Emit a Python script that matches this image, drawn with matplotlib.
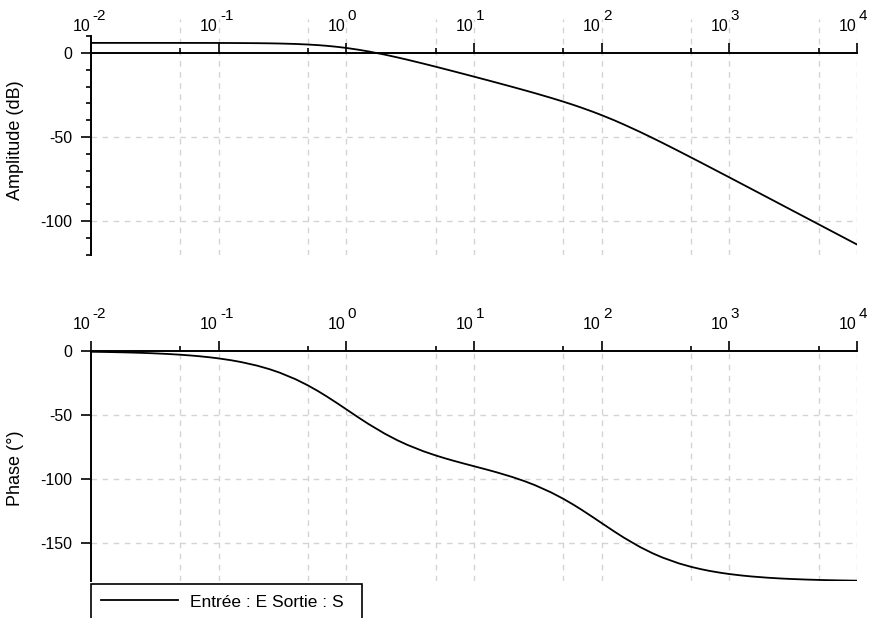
import matplotlib
matplotlib.use("Agg")
from matplotlib import pyplot as plt
from matplotlib.ticker import FixedLocator, NullFormatter
from matplotlib.transforms import offset_copy

plt.rcParams["font.family"] = ["Liberation Sans", "DejaVu Sans"]
plt.rcParams["axes.unicode_minus"] = False

# values (pulsation in rad/s)
freq = [0.01, 0.0125, 0.015, 0.02, 0.025, 0.03, 0.04, 0.05, 0.06, 0.07, 0.085,
        0.1, 0.125, 0.15, 0.2, 0.25, 0.3, 0.4, 0.5, 0.6, 0.7, 0.85,
        1, 1.25, 1.5, 2, 2.5, 3, 4, 5, 6, 7, 8.5,
        10, 12.5, 15, 20, 25, 30, 40, 50, 60, 70, 85,
        100, 125, 150, 200, 250, 300, 400, 500, 600, 700, 850,
        1000, 1250, 1500, 2000, 2500, 3000, 4000, 5000, 6000, 7000, 8500,
        10000]
gain_db = [6.02, 6.02, 6.02, 6.02, 6.02, 6.02, 6.01, 6.01, 6.00, 6.00, 5.99,
           5.98, 5.95, 5.92, 5.85, 5.76, 5.65, 5.38, 5.05, 4.69, 4.29, 3.66,
           3.01, 1.93, 0.90, -0.97, -2.59, -3.98, -6.29, -8.14, -9.68, -10.99, -12.66,
           -14.07, -16.01, -17.62, -20.18, -22.21, -23.90, -26.67, -28.93, -30.88,
           -32.62, -34.93,
           -36.99, -40.00, -42.62, -46.99, -50.54, -53.52, -58.33, -62.11, -65.22,
           -67.87, -71.22,
           -74.02, -77.88, -81.04, -86.03, -89.91, -93.07, -98.07, -101.94, -105.11,
           -107.79, -111.16,
           -113.98]
phase_deg = [-0.58, -0.72, -0.87, -1.16, -1.45, -1.73, -2.31, -2.89, -3.47, -4.04, -4.91,
             -5.77, -7.20, -8.62, -11.42, -14.18, -16.87, -22.03, -26.85, -31.31,
             -35.39, -40.85,
             -45.57, -52.06, -57.17, -64.58, -69.63, -73.28, -78.25, -81.55, -83.97,
             -85.87, -88.15,
             -90.00, -92.55, -94.72, -98.45, -101.75, -104.79, -110.37, -115.42,
             -120.01, -124.17, -129.69,
             -134.43, -140.88, -145.93, -153.15, -157.97, -161.37, -165.82, -168.58,
             -170.44, -171.79, -173.22,
             -174.23, -175.38, -176.15, -177.11, -177.69, -178.07, -178.55, -178.84,
             -179.04, -179.17, -179.32,
             -179.43]

exponents = ["-2", "-1", "0", "1", "2", "3", "4"]
major_x = [10.0 ** k for k in range(-2, 5)]
minor_x = [5 * 10.0 ** k for k in range(-2, 4)]

GRID = "#d4d4d4"
TICK_FS = 11.5
LABEL_FS = 13


def style_axes(ax, ylim, spine_top, yticks, yminor, ylabel, label_y):
    ax.set_xscale("log")
    ax.set_xlim(major_x[0], major_x[-1])
    ax.set_ylim(*ylim)
    ax.spines["right"].set_visible(False)
    ax.spines["bottom"].set_visible(False)
    ax.spines["top"].set_position(("data", 0))
    ax.spines["left"].set_bounds(ylim[0], spine_top)
    for s in ("top", "left"):
        ax.spines[s].set_linewidth(1.4)

    ax.xaxis.set_ticks_position("top")
    ax.xaxis.set_major_locator(FixedLocator(major_x))
    ax.xaxis.set_minor_locator(FixedLocator(minor_x))
    ax.xaxis.set_major_formatter(NullFormatter())
    ax.xaxis.set_minor_formatter(NullFormatter())
    ax.tick_params(axis="x", which="major", direction="out", length=7.2, width=1.2)
    ax.tick_params(axis="x", which="minor", direction="out", length=3.6, width=1.2)

    ax.set_yticks(yticks)
    ax.set_yticks(yminor, minor=True)
    ax.set_yticklabels([str(v) for v in yticks])
    ax.tick_params(axis="y", which="major", length=7.2, width=1.2,
                   labelsize=TICK_FS, pad=6)
    ax.tick_params(axis="y", which="minor", length=3.6, width=1.2)

    for x in major_x[1:] + minor_x:
        ax.axvline(x, color=GRID, ls=(0, (4, 4)), lw=1, zorder=0)
    for y in yticks:
        if y != 0:
            ax.axhline(y, color=GRID, ls=(0, (4, 4)), lw=1, zorder=0)

    # tick labels 10^k drawn as base + raised exponent
    base_tr = offset_copy(ax.transData, fig=ax.figure, x=-0.5, y=15.8, units="points")
    exp_tr = offset_copy(ax.transData, fig=ax.figure, x=1.0, y=23.5, units="points")
    for x, e in zip(major_x, exponents):
        ax.text(x, 0, "10", transform=base_tr, ha="right", va="baseline",
                fontsize=TICK_FS)
        ax.text(x, 0, e, transform=exp_tr, ha="left", va="baseline",
                fontsize=TICK_FS - 0.5)

    ax.set_ylabel(ylabel, fontsize=LABEL_FS)
    ax.yaxis.set_label_coords(-0.088, label_y)


fig = plt.figure(figsize=(8.71, 6.18), dpi=100)
ax_gain = fig.add_axes([0.1045, 0.588, 0.8794, 0.3806])
ax_phase = fig.add_axes([0.1045, 0.0592, 0.8794, 0.3728])

style_axes(ax_gain, (-120, 20), 10, [0, -50, -100],
           [10, -10, -20, -30, -40, -60, -70, -80, -90, -110, -120],
           "Amplitude (dB)", 0.487)
style_axes(ax_phase, (-180, 0), 0, [0, -50, -100, -150], [],
           "Phase (°)", 0.492)

ax_gain.plot(freq, gain_db, color="k", lw=1.3, zorder=3)
line, = ax_phase.plot(freq, phase_deg, color="k", lw=1.3, zorder=3,
                      label="Entrée : E Sortie : S")

leg = fig.legend(handles=[line], loc="upper left",
                 bbox_to_anchor=(91 / 871, 1 - 584 / 618 - 0.02, (362 - 91) / 871, 0.02),
                 mode="expand", fancybox=False, edgecolor="k", framealpha=1,
                 borderaxespad=0, handlelength=4.4, handletextpad=0.7,
                 fontsize=12.5, borderpad=0.6)
leg.get_frame().set_linewidth(1.2)

fig.savefig("out.png", dpi=100)
